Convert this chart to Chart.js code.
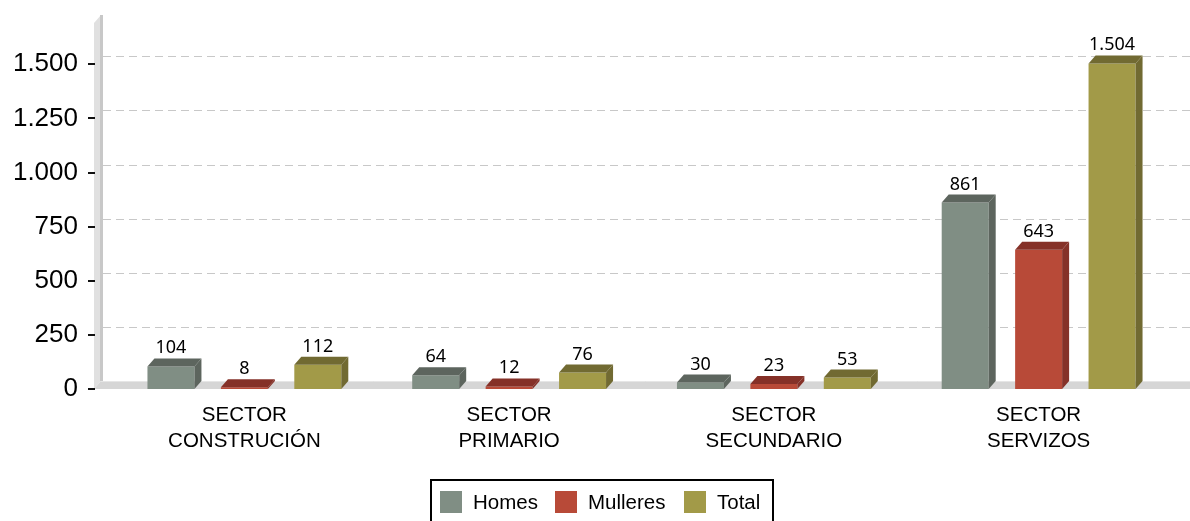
<!DOCTYPE html>
<html>
<head>
<meta charset="utf-8">
<script src="https://cdn.jsdelivr.net/npm/chart.js@4"></script>
<style>
html,body{margin:0;padding:0;background:#fff;}
canvas{display:block;}
</style>
</head>
<body>
<canvas id="c" width="1190" height="521"></canvas>
<script>
const categories = [["SECTOR","CONSTRUCIÓN"],["SECTOR","PRIMARIO"],["SECTOR","SECUNDARIO"],["SECTOR","SERVIZOS"]];
const seriesNames = ["Homes","Mulleres","Total"];
const homes = [104, 64, 30, 861];
const mulleres = [8, 12, 23, 643];
const total = [112, 76, 53, 1504];
const yTicks = [0, 250, 500, 750, 1000, 1250, 1500];

const frontColors = ["#808e84", "#b84a38", "#a29a48"];
const darkColors = ["#5d655e", "#853128", "#716a32"];

const DX = 7, DY = 8;

function fmt(v){ return String(v).replace(/\B(?=(\d{3})+(?!\d))/g, "."); }

const threeD = {
  id: 'threeD',
  beforeDatasetsDraw(chart){
    const ctx = chart.ctx;
    const ys = chart.scales.y;
    const ca = chart.chartArea;
    const W = chart.width;
    const wallL = 94, wallR = 101;
    ctx.save();
    ctx.fillStyle = '#e0e0e0';
    ctx.beginPath();
    ctx.moveTo(wallL, ca.top + 2);
    ctx.lineTo(wallR, ca.top + 2 - DY);
    ctx.lineTo(wallR, ca.bottom - DY);
    ctx.lineTo(wallL, ca.bottom);
    ctx.closePath();
    ctx.fill();
    ctx.fillStyle = '#c8c8c8';
    ctx.fillRect(wallR - 1, ca.top + 2 - DY, 3, ca.bottom - ca.top - 2);
    ctx.fillStyle = '#d6d6d6';
    ctx.beginPath();
    ctx.moveTo(wallL, ca.bottom);
    ctx.lineTo(wallR, ca.bottom - DY);
    ctx.lineTo(W, ca.bottom - DY);
    ctx.lineTo(W, ca.bottom);
    ctx.closePath();
    ctx.fill();
    ctx.strokeStyle = '#e6e6e6';
    ctx.lineWidth = 1;
    ctx.beginPath();
    ctx.moveTo(wallR, ca.bottom - DY + 0.5);
    ctx.lineTo(W, ca.bottom - DY + 0.5);
    ctx.stroke();
    ctx.strokeStyle = '#c8c8c8';
    ctx.setLineDash([8, 5]);
    yTicks.forEach(v => {
      if (v === 0) return;
      const y = Math.round(ys.getPixelForValue(v) - DY) + 0.5;
      ctx.beginPath();
      ctx.moveTo(wallR + 2, y);
      ctx.lineTo(W, y);
      ctx.stroke();
    });
    ctx.setLineDash([]);
    ctx.strokeStyle = '#111';
    ctx.lineWidth = 2;
    yTicks.forEach(v => {
      const y = Math.round(ys.getPixelForValue(v));
      ctx.beginPath();
      ctx.moveTo(88, y);
      ctx.lineTo(95, y);
      ctx.stroke();
    });
    ctx.restore();
  },
  afterDatasetsDraw(chart){
    const ctx = chart.ctx;
    ctx.save();
    chart.data.datasets.forEach((ds, di) => {
      const meta = chart.getDatasetMeta(di);
      meta.data.forEach((bar, i) => {
        const p = bar.getProps(['x','y','base','width'], true);
        const l = p.x - p.width/2, r = p.x + p.width/2;
        ctx.fillStyle = darkColors[di];
        ctx.beginPath();
        ctx.moveTo(l, p.y);
        ctx.lineTo(l + DX, p.y - DY);
        ctx.lineTo(r + DX, p.y - DY);
        ctx.lineTo(r, p.y);
        ctx.closePath();
        ctx.fill();
        ctx.beginPath();
        ctx.moveTo(r, p.y);
        ctx.lineTo(r + DX, p.y - DY);
        ctx.lineTo(r + DX, p.base - DY);
        ctx.lineTo(r, p.base);
        ctx.closePath();
        ctx.fill();
        ctx.fillStyle = '#000';
        ctx.font = '18px "Noto Sans"';
        ctx.textAlign = 'center';
        ctx.textBaseline = 'alphabetic';
        ctx.fillText(fmt(ds.data[i]), p.x, p.y - DY - 5);
      });
    });
    ctx.restore();
  },
  afterDraw(chart){
    const ctx = chart.ctx;
    ctx.save();
    ctx.strokeStyle = '#000';
    ctx.lineWidth = 2;
    ctx.strokeRect(431, 480, 342, 60);
    ctx.font = '20.5px "Liberation Sans", Arial, sans-serif';
    ctx.textBaseline = 'middle';
    ctx.textAlign = 'left';
    const sw = [440, 555, 684];
    chart.data.datasets.forEach((ds, di) => {
      ctx.fillStyle = ds.backgroundColor;
      ctx.fillRect(sw[di], 491, 22, 22);
      ctx.fillStyle = '#000';
      ctx.fillText(ds.label, sw[di] + 33, 503);
    });
    ctx.restore();
  }
};

new Chart(document.getElementById('c'), {
  type: 'bar',
  data: {
    labels: categories,
    datasets: [
      { label: seriesNames[0], data: homes, backgroundColor: frontColors[0] },
      { label: seriesNames[1], data: mulleres, backgroundColor: frontColors[1] },
      { label: seriesNames[2], data: total, backgroundColor: frontColors[2] }
    ]
  },
  options: {
    responsive: false,
    animation: false,
    events: [],
    layout: { padding: { top: 21, right: 19, bottom: 0, left: 0 } },
    datasets: { bar: { categoryPercentage: 0.832, barPercentage: 0.64 } },
    plugins: { legend: { display: false }, tooltip: { enabled: false } },
    scales: {
      x: {
        grid: { display: false, drawTicks: false },
        border: { display: false },
        ticks: {
          color: '#000',
          padding: 13,
          font: { family: '"Liberation Sans", Arial, sans-serif', size: 20.5, lineHeight: 1.27 },
          maxRotation: 0, autoSkip: false
        },
        afterFit(s){ s.height = 132; s.paddingLeft = 0; s.paddingRight = 0; }
      },
      y: {
        min: 0, max: 1700,
        grid: { display: false, drawTicks: false },
        border: { display: false },
        ticks: {
          stepSize: 250,
          color: '#000',
          padding: 34,
          font: { family: '"Liberation Sans", Arial, sans-serif', size: 26 },
          callback: v => fmt(v)
        },
        afterBuildTicks(s){ s.ticks = yTicks.map(v => ({ value: v })); },
        afterFit(s){ s.width = 112; s.paddingTop = 0; s.paddingBottom = 0; }
      }
    }
  },
  plugins: [threeD]
});
</script>
</body>
</html>
